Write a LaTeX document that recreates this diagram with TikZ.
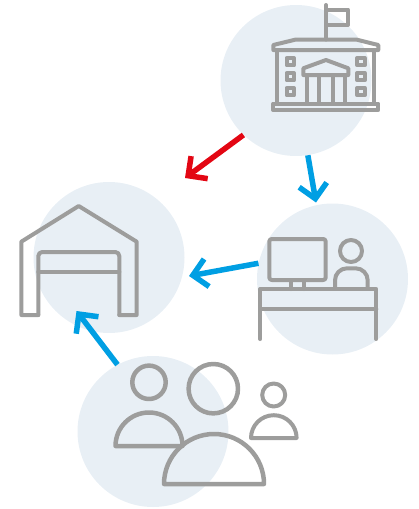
\documentclass[tikz,border=0pt]{standalone}
\usepackage{tikz}
\usetikzlibrary{arrows.meta}
\definecolor{blob}{HTML}{E8EFF5}
\definecolor{icongray}{HTML}{9D9D9C}
\definecolor{flowblue}{HTML}{009FE3}
\definecolor{flowred}{HTML}{E30613}
\tikzset{
  blob/.style={circle, fill=blob, minimum size=151pt, inner sep=0pt},
  icon/.style={draw=icongray, line width=4pt, line join=round, line cap=round},
  flow/.style={line width=5.5pt, -{Straight Barb[length=14pt,width=28pt,line width=5.5pt]}},
}

\begin{document}
\begin{tikzpicture}[x=1pt,y=-1pt]
          \useasboundingbox (0,0) rectangle (419,509);

          \node[blob] (town) at (296,80.5) {};
          \node[blob] (depot) at (109,257.5) {};
          \node[blob] (office) at (332.5,279) {};
          \node[blob] (people) at (153,431.5) {};

          \coordinate (redtip) at (185,178);
          \coordinate (officetip) at (316,202.5);
          \coordinate (depottip) at (189,276);
          \coordinate (peopletip) at (76.5,311);

          \draw[flow, draw=flowred] (town.226) -- (redtip);
          \draw[flow, draw=flowblue] (town.279) -- (officetip);
          \draw[flow, draw=flowblue] (office.168) -- (depottip);
          \draw[flow, draw=flowblue] (people.118) -- (peopletip);

          % town hall
          \draw[icon] (326,5) -- (326,39.5);
          \draw[icon] (326,9.5) -- (348,9.5) -- (348,25) -- (326,25);
          \draw[icon] (273.3,50) -- (273.3,45) -- (296,39.5) -- (356,39.5) -- (378.3,45) -- (378.3,50) -- cycle;
          \draw[icon] (277.3,50) -- (277.3,103.5);
          \draw[icon] (374.3,50) -- (374.3,103.5);
          \draw[icon] (273.3,103.5) rectangle (378.3,110);
          \foreach \wx in {290.3,361}{
            \foreach \wy in {61.7,76.7,91.7}{
              \draw[icon] (\wx-3.7,\wy-3.7) rectangle (\wx+3.7,\wy+3.7);
            }
          }
          \draw[icon] (303.3,75) -- (303.3,68.3) -- (326,60) -- (348.3,68.3) -- (348.3,75) -- cycle;
          \foreach \cx in {307.3,318.7,333.3,344.7}{
            \draw[icon] (\cx,75) -- (\cx,103.5);
          }

          % depot
          \draw[icon] (38.3,315) -- (21.3,315) -- (21.3,241.7) -- (78.7,206) -- (136.7,241.7) -- (136.7,315) -- (119.3,315);
          \draw[icon, rounded corners=4pt] (38.3,315) -- (38.3,252) -- (119.3,252) -- (119.3,315);
          \draw[icon] (38.3,271.7) -- (119.3,271.7);

          % office
          \draw[icon, rounded corners=2.5pt] (269.3,239) rectangle (325.7,280);
          \draw[icon] (290.7,280) -- (290.7,289);
          \draw[icon] (304,280) -- (304,289);
          \draw[icon] (351,251) circle [radius=11];
          \draw[icon, rounded corners=12pt] (335,288) -- (335,268.3) -- (367.7,268.3) -- (367.7,288);
          \draw[icon] (260.3,339) -- (260.3,289) -- (376.3,289) -- (376.3,339);
          \draw[icon] (260.3,309.3) -- (376.3,309.3);

          % people
          \begin{scope}[line width=4.5pt]
            \draw[icon, line width=4.5pt] (149,382.3) circle [radius=16.7];
            \draw[icon, line width=4.5pt] (115.5,446) arc [start angle=180, end angle=360, radius=33.5] -- cycle;
            \draw[icon, line width=4.5pt] (213.3,388.7) circle [radius=24.7];
            \draw[icon, line width=4.5pt] (164,484) arc [start angle=180, end angle=360, radius=50] -- cycle;
            \draw[icon] (273.7,395) circle [radius=11.5];
            \draw[icon] (251,438) arc [start angle=180, end angle=360, radius=22.8] -- cycle;
          \end{scope}
        \end{tikzpicture}
\end{document}
